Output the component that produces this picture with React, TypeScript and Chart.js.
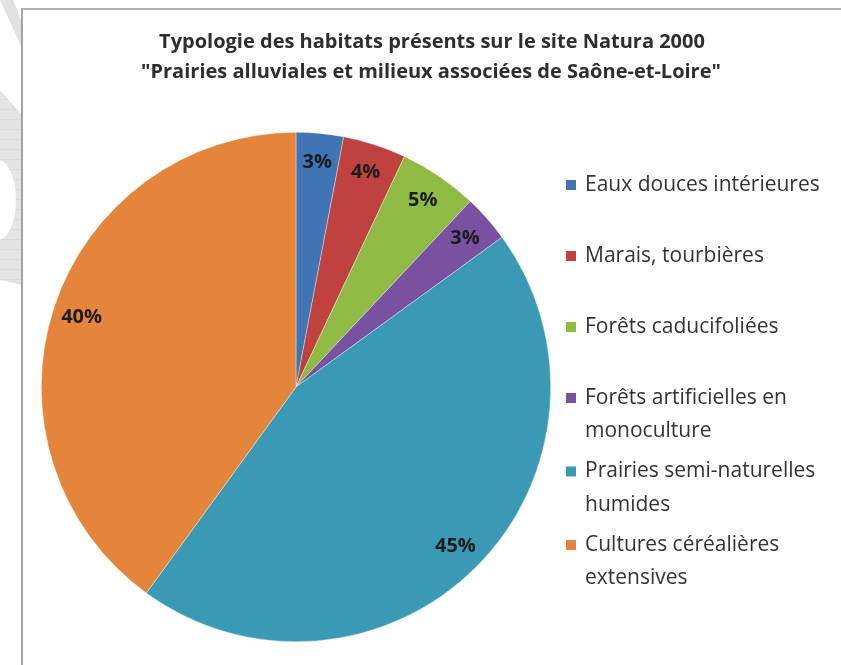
import { useEffect, useRef } from "react";
import { Chart, registerables } from "chart.js";

Chart.register(...registerables);

const titleLines = [
  "Typologie des habitats présents sur le site Natura 2000",
  "\"Prairies alluviales et milieux associées de Saône-et-Loire\"",
];

const categories: string[][] = [
  ["Eaux douces intérieures"],
  ["Marais, tourbières"],
  ["Forêts caducifoliées"],
  ["Forêts artificielles en", "monoculture"],
  ["Prairies semi-naturelles", "humides"],
  ["Cultures céréalières", "extensives"],
];

const values = [3, 4, 5, 3, 45, 40];

const colors = ["#3F74B5", "#C0423F", "#8FBB45", "#7A51A0", "#3A9AB6", "#E5853C"];

const FONT = "'Open Sans', 'DejaVu Sans', sans-serif";

const titlePlugin = {
  id: "customTitle",
  afterDraw(chart: any) {
    const ctx = chart.ctx;
    ctx.save();
    ctx.font = `bold 20px ${FONT}`;
    ctx.fillStyle = "#2e2e2e";
    ctx.textAlign = "center";
    ctx.textBaseline = "middle";
    ctx.fillText(titleLines[0], 432, 42);
    ctx.fillText(titleLines[1], 431, 72);
    ctx.restore();
  },
};

const legendPlugin = {
  id: "customLegend",
  afterDraw(chart: any) {
    const ctx = chart.ctx;
    const labels = chart.data.labels as string[][];
    const bg = chart.data.datasets[0].backgroundColor as string[];
    ctx.save();
    ctx.font = `21px ${FONT}`;
    ctx.textAlign = "left";
    ctx.textBaseline = "middle";
    let y = 185;
    labels.forEach((lines, i) => {
      ctx.fillStyle = bg[i];
      ctx.fillRect(566, y - 5, 10, 10);
      ctx.fillStyle = "#333333";
      lines.forEach((line, j) => {
        ctx.fillText(line, 585, y + j * 33.5);
      });
      y += lines.length === 1 ? 71 : 73.5;
    });
    ctx.restore();
  },
};

const labelPlugin = {
  id: "sliceLabels",
  afterDatasetsDraw(chart: any) {
    const ctx = chart.ctx;
    const meta = chart.getDatasetMeta(0);
    const data = chart.data.datasets[0].data as number[];
    ctx.save();
    ctx.font = `bold 20px ${FONT}`;
    ctx.fillStyle = "#1c1c1c";
    ctx.textAlign = "center";
    ctx.textBaseline = "middle";
    meta.data.forEach((arc: any, i: number) => {
      const p = arc.getProps(["x", "y", "startAngle", "endAngle", "outerRadius"], true);
      const mid = (p.startAngle + p.endAngle) / 2;
      const r = p.outerRadius * 0.885;
      ctx.fillText(`${data[i]}%`, p.x + Math.cos(mid) * r, p.y + Math.sin(mid) * r);
    });
    ctx.restore();
  },
};

export default function App() {
  const ref = useRef<HTMLCanvasElement>(null);
  useEffect(() => {
    document.body.style.margin = "0";
    const chart = new Chart(ref.current as HTMLCanvasElement, {
      type: "pie",
      data: {
        labels: categories as any,
        datasets: [
          {
            data: values,
            backgroundColor: colors,
            borderColor: "rgba(255,255,255,0.6)",
            borderWidth: 0.6,
          },
        ],
      },
      options: {
        responsive: false,
        animation: false,
        layout: { padding: { top: 132, bottom: 23, left: 41, right: 290 } },
        plugins: {
          legend: { display: false },
          title: { display: false },
          tooltip: { enabled: false },
        },
      },
      plugins: [labelPlugin, legendPlugin, titlePlugin],
    });
    return () => chart.destroy();
  }, []);
  return (
    <div style={{ position: "relative", width: 841, height: 665, overflow: "hidden", background: "#fff" }}>
      <div
        style={{
          position: "absolute",
          left: 0,
          top: 0,
          width: 22,
          height: 50,
          background: "#e2e2e2",
          clipPath: "polygon(0 0, 13px 0, 22px 22px, 22px 48px)",
        }}
      />
      <div
        style={{
          position: "absolute",
          left: 0,
          top: 90,
          width: 22,
          height: 200,
          background: "repeating-linear-gradient(#e4e4e4 0px, #e4e4e4 9px, #d2d2d2 10px)",
          clipPath: "polygon(0 0, 22px 25px, 22px 195px, 0 190px)",
        }}
      />
      <div
        style={{
          position: "absolute",
          left: -20,
          top: 160,
          width: 36,
          height: 80,
          borderRadius: "50%",
          background: "#fff",
        }}
      />
      <div
        style={{
          position: "absolute",
          left: 21,
          top: 8,
          width: 830,
          height: 700,
          background: "#fff",
          borderLeft: "2px solid #a3a3a3",
          borderTop: "2px solid #b3b3b3",
        }}
      />
      <canvas ref={ref} width={841} height={665} style={{ position: "absolute", left: 0, top: 0 }} />
    </div>
  );
}
